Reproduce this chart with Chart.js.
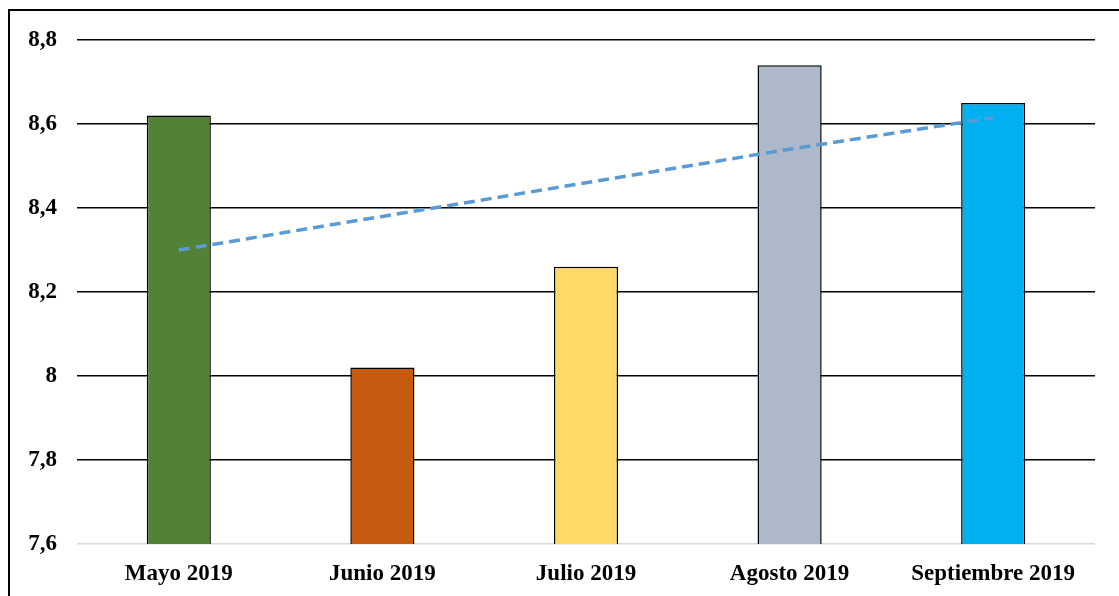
<!DOCTYPE html>
<html>
<head>
  <meta charset="UTF-8">
  <title>Promedio mensual 2019</title>
  <script src="https://cdn.jsdelivr.net/npm/chart.js"></script>
  <style>
    html, body {
      margin: 0;
      padding: 0;
      background: #fff;
      overflow: hidden;
    }
    .wrap {
      position: relative;
      width: 1119px;
      height: 596px;
    }
    .frame {
      position: absolute;
      left: 8px;
      top: 9px;
      width: 1300px;
      height: 800px;
      border: 2px solid #000;
      pointer-events: none;
    }
  </style>
</head>
<body>
  <div class="wrap">
    <canvas id="monthChart" width="1119" height="596"></canvas>
    <div class="frame"></div>
  </div>

  <script>
    const months = ['Mayo 2019', 'Junio 2019', 'Julio 2019', 'Agosto 2019', 'Septiembre 2019'];
    const scores = [8.62, 8.02, 8.26, 8.74, 8.65];
    const trend = [8.30, 8.38, 8.46, 8.54, 8.615];
    const barColors = ['#538135', '#c55a11', '#ffd966', '#adb9ca', '#00b0f0'];
    const yTicks = [7.6, 7.8, 8, 8.2, 8.4, 8.6, 8.8];

    const labelFont = { family: '"Liberation Serif", "Times New Roman", serif', size: 23, weight: 'bold' };

    const ctx = document.getElementById('monthChart').getContext('2d');
    new Chart(ctx, {
      data: {
        labels: months,
        datasets: [
          {
            type: 'line',
            label: 'Tendencia',
            data: trend,
            borderColor: '#5b9bd5',
            borderWidth: 3.5,
            borderDash: [11, 6],
            pointRadius: 0,
            fill: false,
            order: 0
          },
          {
            type: 'bar',
            label: 'Promedio',
            data: scores,
            backgroundColor: barColors,
            borderColor: '#000',
            borderWidth: 1.5,
            categoryPercentage: 1,
            barPercentage: 0.315,
            order: 1
          }
        ]
      },
      options: {
        responsive: false,
        animation: false,
        layout: { padding: { top: 40, right: 24, bottom: 0, left: 0 } },
        plugins: {
          legend: { display: false },
          tooltip: { enabled: false }
        },
        scales: {
          x: {
            grid: { display: false, drawTicks: false },
            border: { display: false },
            ticks: { color: '#000', font: labelFont, padding: 16, maxRotation: 0 },
            afterFit: s => { s.height = 52; }
          },
          y: {
            min: yTicks[0],
            max: yTicks[yTicks.length - 1],
            afterBuildTicks: s => { s.ticks = yTicks.map(v => ({ value: v })); },
            grid: {
              drawTicks: false,
              lineWidth: 1.4,
              color: c => (c.tick && c.tick.value === yTicks[0] ? '#d9d9d9' : '#000')
            },
            border: { display: false },
            ticks: {
              color: '#000',
              font: labelFont,
              padding: 20,
              callback: v => String(Math.round(v * 10) / 10).replace('.', ',')
            },
            afterFit: s => { s.width = 77; }
          }
        }
      }
    });
  </script>
</body>
</html>
